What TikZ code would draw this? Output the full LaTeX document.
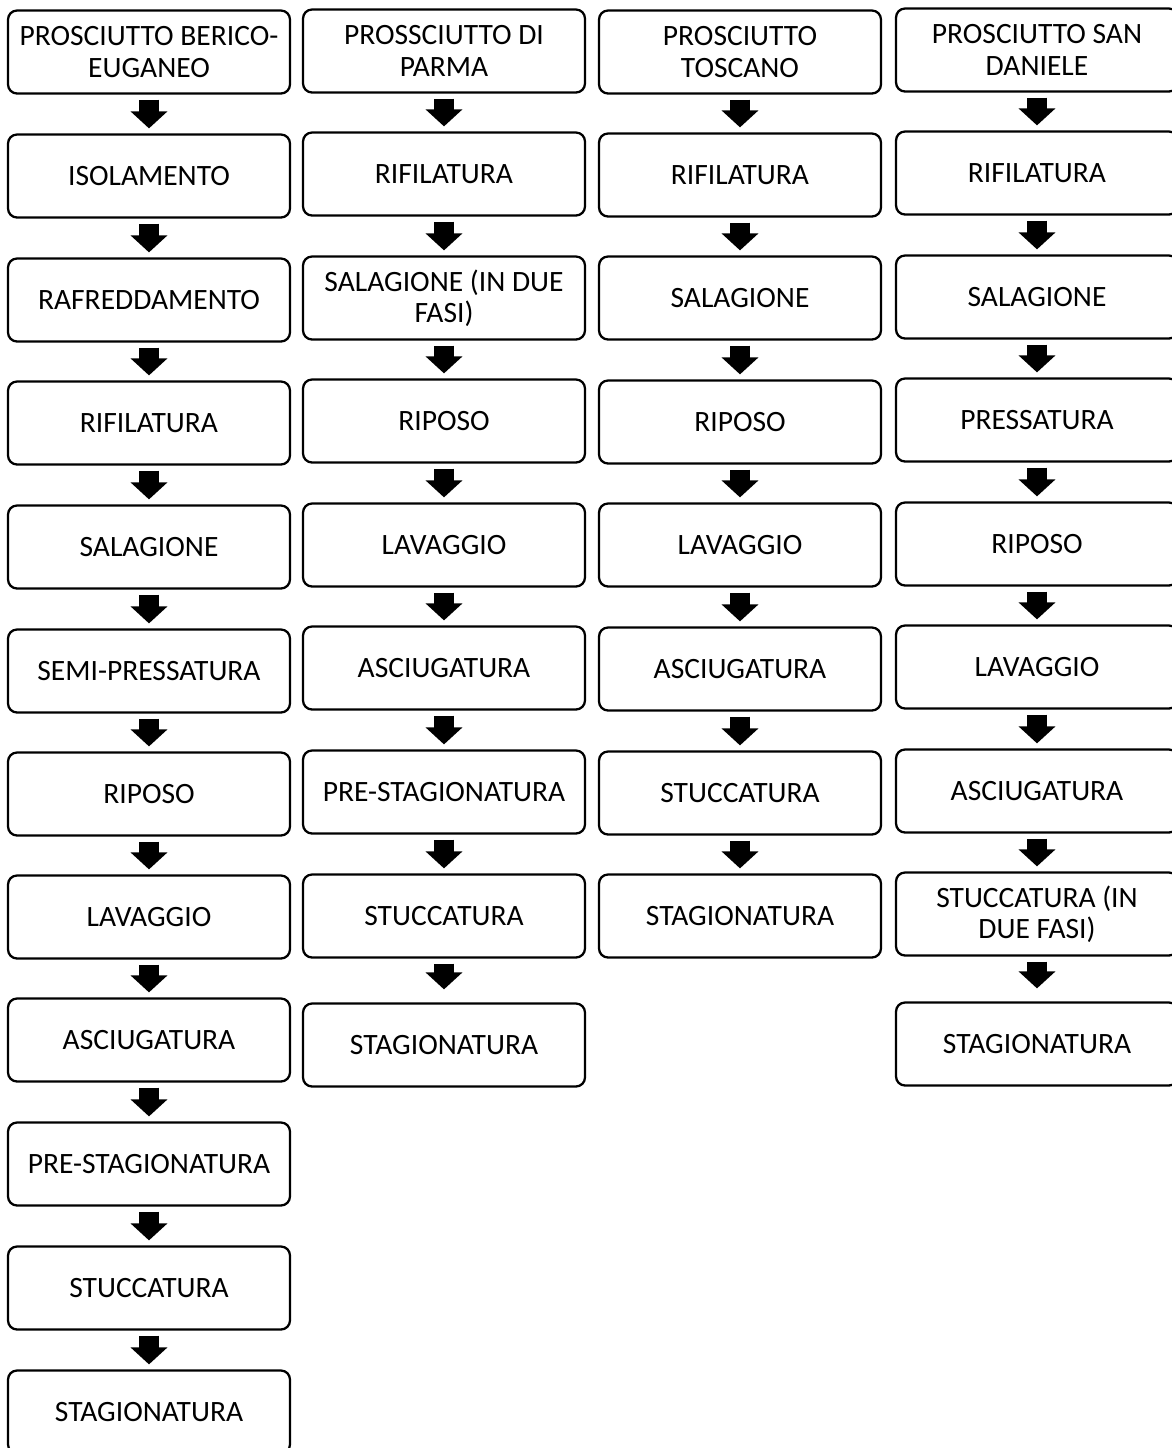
\documentclass[tikz,border=0pt]{standalone}
\usepackage{fontspec}
\setmainfont{Carlito}
\usetikzlibrary{arrows.meta}

\tikzset{
	step box/.style={rectangle,draw,rounded corners=0.18cm,line width=1.3pt,
		minimum width=5.64cm,minimum height=1.66cm,align=center,inner sep=0pt,
		font=\fontsize{16.8}{17.8}\selectfont},
	block arrow/.style={line width=0.4cm,shorten <=0.1cm,shorten >=0.1cm,
		-{Triangle[width=0.72cm,length=0.34cm]}},
}

\begin{document}
\begin{tikzpicture}[x=0.02cm,y=-0.02cm]
		\useasboundingbox (0,0) rectangle (1172,1448);
		\clip (0,0) rectangle (1172,1448);
		% Berico-Euganeo
		\path (149,52) node(be0) [step box] {PROSCIUTTO BERICO-\\EUGANEO};
		\path (149,176) node(be1) [step box] {ISOLAMENTO};
		\path (149,300) node(be2) [step box] {RAFREDDAMENTO};
		\path (149,423) node(be3) [step box] {RIFILATURA};
		\path (149,547) node(be4) [step box] {SALAGIONE};
		\path (149,671) node(be5) [step box] {SEMI-PRESSATURA};
		\path (149,794) node(be6) [step box] {RIPOSO};
		\path (149,917) node(be7) [step box] {LAVAGGIO};
		\path (149,1040) node(be8) [step box] {ASCIUGATURA};
		\path (149,1164) node(be9) [step box] {PRE-STAGIONATURA};
		\path (149,1288) node(be10) [step box] {STUCCATURA};
		\path (149,1412) node(be11) [step box] {STAGIONATURA};
		% Parma
		\path (444,51) node(pa0) [step box] {PROSSCIUTTO DI\\PARMA};
		\path (444,174) node(pa1) [step box] {RIFILATURA};
		\path (444,298) node(pa2) [step box] {SALAGIONE (IN DUE\\FASI)};
		\path (444,421) node(pa3) [step box] {RIPOSO};
		\path (444,545) node(pa4) [step box] {LAVAGGIO};
		\path (444,668) node(pa5) [step box] {ASCIUGATURA};
		\path (444,792) node(pa6) [step box] {PRE-STAGIONATURA};
		\path (444,916) node(pa7) [step box] {STUCCATURA};
		\path (444,1045) node(pa8) [step box] {STAGIONATURA};
		% Toscano
		\path (740,52) node(to0) [step box] {PROSCIUTTO\\TOSCANO};
		\path (740,175) node(to1) [step box] {RIFILATURA};
		\path (740,298) node(to2) [step box] {SALAGIONE};
		\path (740,422) node(to3) [step box] {RIPOSO};
		\path (740,545) node(to4) [step box] {LAVAGGIO};
		\path (740,669) node(to5) [step box] {ASCIUGATURA};
		\path (740,793) node(to6) [step box] {STUCCATURA};
		\path (740,916) node(to7) [step box] {STAGIONATURA};
		% San Daniele
		\path (1037,50) node(sd0) [step box] {PROSCIUTTO SAN\\DANIELE};
		\path (1037,173) node(sd1) [step box] {RIFILATURA};
		\path (1037,297) node(sd2) [step box] {SALAGIONE};
		\path (1037,420) node(sd3) [step box] {PRESSATURA};
		\path (1037,544) node(sd4) [step box] {RIPOSO};
		\path (1037,667) node(sd5) [step box] {LAVAGGIO};
		\path (1037,791) node(sd6) [step box] {ASCIUGATURA};
		\path (1037,914) node(sd7) [step box] {STUCCATURA (IN\\DUE FASI)};
		\path (1037,1044) node(sd8) [step box] {STAGIONATURA};

		\draw[block arrow] (be0) -- (be1);
		\draw[block arrow] (be1) -- (be2);
		\draw[block arrow] (be2) -- (be3);
		\draw[block arrow] (be3) -- (be4);
		\draw[block arrow] (be4) -- (be5);
		\draw[block arrow] (be5) -- (be6);
		\draw[block arrow] (be6) -- (be7);
		\draw[block arrow] (be7) -- (be8);
		\draw[block arrow] (be8) -- (be9);
		\draw[block arrow] (be9) -- (be10);
		\draw[block arrow] (be10) -- (be11);
		\draw[block arrow] (pa0) -- (pa1);
		\draw[block arrow] (pa1) -- (pa2);
		\draw[block arrow] (pa2) -- (pa3);
		\draw[block arrow] (pa3) -- (pa4);
		\draw[block arrow] (pa4) -- (pa5);
		\draw[block arrow] (pa5) -- (pa6);
		\draw[block arrow] (pa6) -- (pa7);
		\draw[block arrow,shorten >=0.26cm] (pa7) -- (pa8);
		\draw[block arrow] (to0) -- (to1);
		\draw[block arrow] (to1) -- (to2);
		\draw[block arrow] (to2) -- (to3);
		\draw[block arrow] (to3) -- (to4);
		\draw[block arrow] (to4) -- (to5);
		\draw[block arrow] (to5) -- (to6);
		\draw[block arrow] (to6) -- (to7);
		\draw[block arrow] (sd0) -- (sd1);
		\draw[block arrow] (sd1) -- (sd2);
		\draw[block arrow] (sd2) -- (sd3);
		\draw[block arrow] (sd3) -- (sd4);
		\draw[block arrow] (sd4) -- (sd5);
		\draw[block arrow] (sd5) -- (sd6);
		\draw[block arrow] (sd6) -- (sd7);
		\draw[block arrow,shorten >=0.26cm] (sd7) -- (sd8);
\end{tikzpicture}
\end{document}
